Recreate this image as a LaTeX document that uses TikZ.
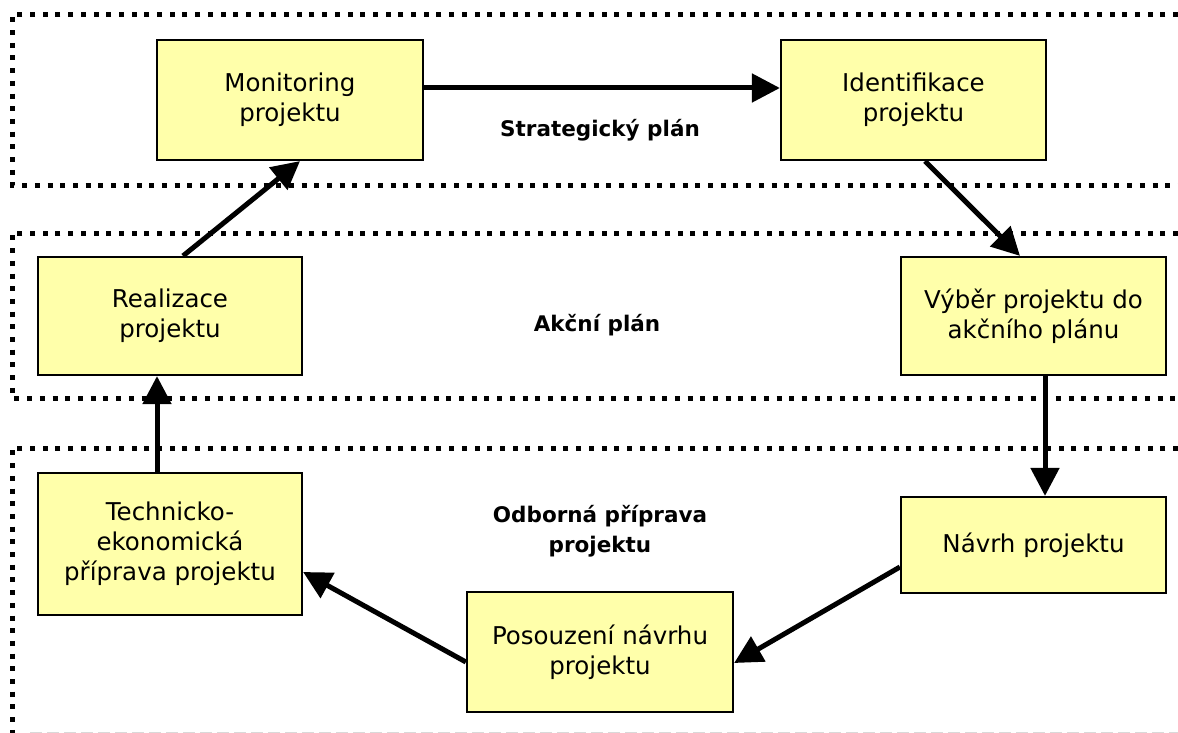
\documentclass[tikz,border=0pt]{standalone}
\usepackage{fontspec}
\setmainfont{DejaVu Sans}
\usetikzlibrary{arrows.meta}
\definecolor{boxfill}{RGB}{255,255,170}
\begin{document}
\begin{tikzpicture}[x=1pt,y=-1pt,
  band/.style={line width=5pt, dash pattern=on 5pt off 7.7pt},
  pbox/.style={draw=black, line width=2.2pt, fill=boxfill, align=center,
    inner sep=0pt, font=\fontsize{24.5}{30}\selectfont},
  flow/.style={line width=5pt, -{Triangle[length=28pt,width=28pt]}},
  lbl/.style={font=\fontsize{21.5}{30}\selectfont\bfseries, align=center}]
\useasboundingbox (0,0) rectangle (1178,733);
% bands
\draw[band] (1178,15) -- (12,15) -- (12,185) -- (1178,185);
\draw[band] (1178,233) -- (12,233) -- (12,398) -- (1178,398);
\draw[band] (1178,448) -- (12,448) -- (12,740);
\draw[black!15, line width=1.5pt, dash pattern=on 12pt off 5pt] (30,732.5) -- (1178,732.5);
% labels
\node[lbl] (l1) at (600,130) {Strategický plán};
\node[lbl] (l2) at (597,325) {Akční plán};
\node[lbl] (l3) at (600,531) {Odborná příprava\\projektu};
% boxes
\node[pbox, minimum width=266pt, minimum height=120pt] (mon) at (290,100) {Monitoring\\projektu};
\node[pbox, minimum width=265pt, minimum height=120pt] (ide) at (913.5,100) {Identifikace\\projektu};
\node[pbox, minimum width=264pt, minimum height=118pt] (rea) at (170,316) {Realizace\\projektu};
\node[pbox, minimum width=265pt, minimum height=118pt] (vyb) at (1033.5,316) {Výběr projektu do\\akčního plánu};
\node[pbox, minimum width=264pt, minimum height=142pt] (tech) at (170,544) {Technicko-\\ekonomická\\příprava projektu};
\node[pbox, minimum width=265pt, minimum height=96pt] (nav) at (1033.5,545) {Návrh projektu};
\node[pbox, minimum width=266pt, minimum height=120pt] (pos) at (600,652) {Posouzení návrhu\\projektu};
% arrows
\draw[flow] ([yshift=12pt]mon.east) -- ([yshift=12pt]ide.west);
\draw[flow] ([xshift=11.5pt]ide.south) -- ([xshift=-13.5pt]vyb.north);
\draw[flow] ([xshift=11.5pt]vyb.south) -- ([xshift=11.5pt]nav.north);
\draw[flow] ([yshift=-22pt]nav.west) -- ([yshift=-11pt]pos.east);
\draw[flow] ([yshift=-10pt]pos.west) -- ([yshift=-28pt]tech.east);
\draw[flow] ([xshift=-13pt]tech.north) -- ([xshift=-13pt]rea.south);
\draw[flow] ([xshift=13pt]rea.north) -- ([xshift=10pt]mon.south);
\end{tikzpicture}
\end{document}
